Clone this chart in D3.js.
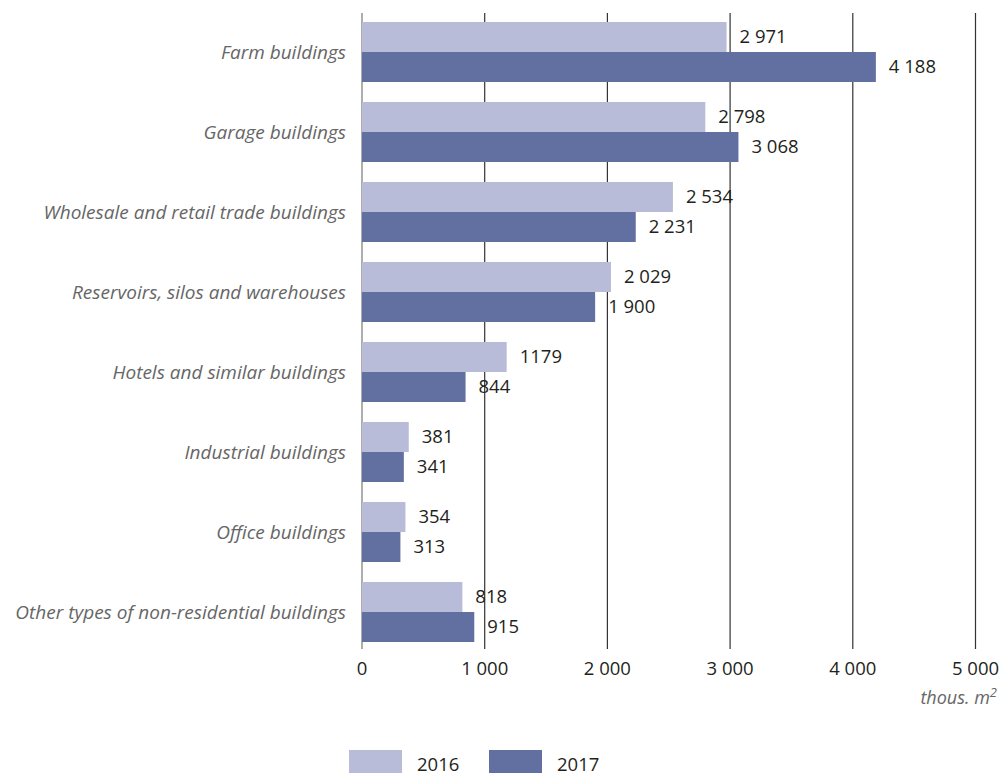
<!DOCTYPE html>
<html>
<head>
<meta charset="utf-8">
<script src="https://cdn.jsdelivr.net/npm/d3@7/dist/d3.min.js"></script>
<style>
  body { margin: 0; background: #fff; }
  svg { display: block; font-family: "Open Sans", "Noto Sans", sans-serif; }
</style>
</head>
<body>
<svg id="chart" width="1003" height="777"></svg>
<script>
// Non-residential buildings completed, thousand square metres
const categories = [
  "Farm buildings",
  "Garage buildings",
  "Wholesale and retail trade buildings",
  "Reservoirs, silos and warehouses",
  "Hotels and similar buildings",
  "Industrial buildings",
  "Office buildings",
  "Other types of non-residential buildings"
];
const years = ["2016", "2017"];
const values2016 = [2971, 2798, 2534, 2029, 1179, 381, 354, 818];
const values2017 = [4188, 3068, 2231, 1900, 844, 341, 313, 915];
const labels2016 = ["2 971", "2 798", "2 534", "2 029", "1179", "381", "354", "818"];
const labels2017 = ["4 188", "3 068", "2 231", "1 900", "844", "341", "313", "915"];
const xTicks = [0, 1000, 2000, 3000, 4000, 5000];
const xTickLabels = ["0", "1 000", "2 000", "3 000", "4 000", "5 000"];

const colors = { "2016": "#b8bcd8", "2017": "#6170a0" };

const svg = d3.select("#chart");

const x = d3.scaleLinear().domain([0, 5000]).range([362, 975.5]);
const y = d3.scaleBand().domain(categories).range([12, 652]).paddingInner(0.25).paddingOuter(0.125);
const ySub = d3.scaleBand().domain(years).range([0, y.bandwidth()]);

// vertical grid lines
svg.append("g")
  .selectAll("line")
  .data(xTicks)
  .join("line")
  .attr("x1", d => x(d)).attr("x2", d => x(d))
  .attr("y1", 13).attr("y2", 649)
  .attr("stroke", d => d === 0 ? "#777" : "#333")
  .attr("stroke-width", 1.2);

// tick labels
svg.append("g")
  .selectAll("text")
  .data(xTicks)
  .join("text")
  .attr("x", d => x(d))
  .attr("y", 675)
  .attr("text-anchor", "middle")
  .attr("font-size", 18.5)
  .attr("fill", "#231f20")
  .text((d, i) => xTickLabels[i]);

// unit
const unit = svg.append("text")
  .attr("x", 997).attr("y", 704)
  .attr("text-anchor", "end")
  .attr("font-size", 18)
  .attr("font-style", "italic")
  .attr("fill", "#666");
unit.append("tspan").text("thous. m");
unit.append("tspan").attr("dy", -7).attr("font-size", 13).text("2");

// category labels
svg.append("g")
  .selectAll("text")
  .data(categories)
  .join("text")
  .attr("x", 346)
  .attr("y", d => y(d) + y.bandwidth() / 2)
  .attr("dy", "0.35em")
  .attr("text-anchor", "end")
  .attr("font-size", 19)
  .attr("font-style", "italic")
  .attr("fill", "#666")
  .text(d => d);

const series = [
  { year: "2016", values: values2016, labels: labels2016 },
  { year: "2017", values: values2017, labels: labels2017 }
];

series.forEach(s => {
  const rows = categories.map((c, i) => ({ c, v: s.values[i], label: s.labels[i] }));
  const g = svg.append("g");
  g.selectAll("rect")
    .data(rows)
    .join("rect")
    .attr("x", x(0))
    .attr("y", d => y(d.c) + ySub(s.year))
    .attr("width", d => x(d.v) - x(0))
    .attr("height", ySub.bandwidth())
    .attr("fill", colors[s.year]);
  g.selectAll("text")
    .data(rows)
    .join("text")
    .attr("x", d => x(d.v) + 13)
    .attr("y", d => y(d.c) + ySub(s.year) + ySub.bandwidth() / 2)
    .attr("dy", "0.35em")
    .attr("font-size", 18.5)
    .attr("fill", "#231f20")
    .text(d => d.label);
});

// legend
const legend = svg.append("g");
const legendX = [349, 489];
years.forEach((yr, i) => {
  legend.append("rect")
    .attr("x", legendX[i]).attr("y", 750)
    .attr("width", 53).attr("height", 23)
    .attr("fill", colors[yr]);
  legend.append("text")
    .attr("x", legendX[i] + 68).attr("y", 771)
    .attr("font-size", 18.5)
    .attr("fill", "#231f20")
    .text(yr);
});
</script>
</body>
</html>
